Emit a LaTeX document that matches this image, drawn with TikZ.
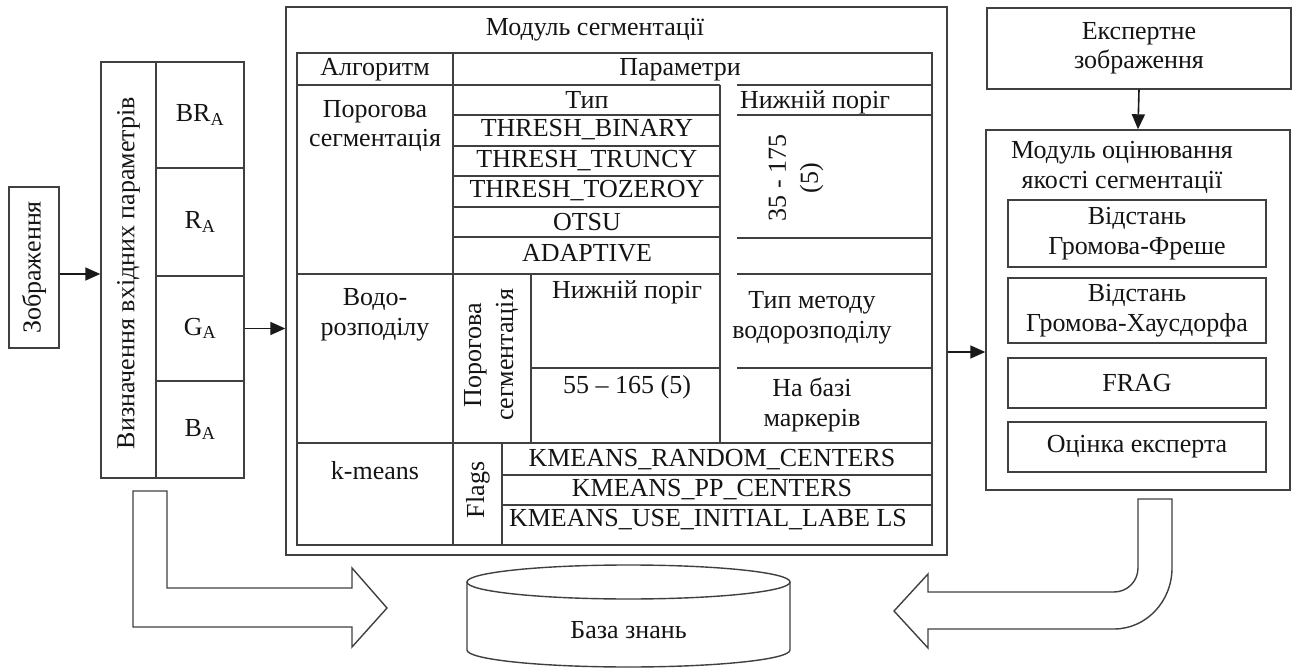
\documentclass[tikz,border=0pt]{standalone}
\usepackage{fontspec}
\setmainfont{Liberation Serif}
\usetikzlibrary{arrows.meta,calc}
\begin{document}
\begin{tikzpicture}[x=1pt,y=-1pt,
  ln/.style={draw=black!75, line width=1.4pt},
  txt/.style={text=black!92, font=\fontsize{26}{29.5}\selectfont, inner sep=0pt, align=center},
  rtxt/.style={txt, rotate=90, font=\fontsize{26}{32}\selectfont},
  box/.style={ln, rectangle, inner sep=0pt},
  cell/.style={box, txt},
  arr/.style={draw=black!90, line width=1.6pt, -{Triangle[length=15pt,width=13pt]}},
  hollow/.style={ln, fill=white, line join=miter}]
\useasboundingbox (0,0) rectangle (1299,668);

% left part
\node[box, minimum width=50pt, minimum height=161pt] (zob) at (34,267.5) {};
\node[rtxt] (zobt) at (zob.center) {Зображення};
\node[box, minimum width=55pt, minimum height=416pt] (vyz) at (128.5,270) {};
\node[rtxt] (vyzt) at (128.5,273) {Визначення вхідних параметрів};
\node[cell, minimum width=88pt, minimum height=106pt] (bra) at (200,115) {BR\textsubscript{A}};
\node[cell, minimum width=88pt, minimum height=108pt] (ra) at (200,222) {R\textsubscript{A}};
\node[cell, minimum width=88pt, minimum height=105pt] (ga) at (200,328.5) {G\textsubscript{A}};
\node[cell, minimum width=88pt, minimum height=97pt] (ba) at (200,429.5) {B\textsubscript{A}};

% segmentation module
\node[box, minimum width=661pt, minimum height=548pt] (seg) at (616.5,281) {};
\node[txt] (segt) at (595,30) {Модуль сегментації};
\node[box, minimum width=635pt, minimum height=492pt] (tab) at (614.5,299) {};
\draw[ln] (297,85) -- (720,85) (737,85) -- (932,85);
\draw[ln] (453,53) -- (453,545);
\draw[ln] (720,85) -- (720,443);
\foreach \y in {115,146,176,207,237} \draw[ln] (453,\y) -- (720,\y);
\draw[ln] (297,274) -- (720,274) (737,274) -- (932,274);
\foreach \y in {115,238,368} \draw[ln] (737,\y) -- (932,\y);
\draw[ln] (531,274) -- (531,443);
\draw[ln] (531,368) -- (720,368);
\draw[ln] (297,443) -- (932,443);
\draw[ln] (502,443) -- (502,545);
\draw[ln] (502,475) -- (932,475) (502,505) -- (932,505);

\node[txt] (t1) at (375,70) {Алгоритм};
\node[txt] (t2) at (680,70) {Параметри};
\node[txt] (t3) at (375,126) {Порогова\\сегментація};
\node[txt] (t4) at (587,100) {Тип};
\node[txt] (t5) at (587,130) {THRESH\_BINARY};
\node[txt] (t6) at (587,161) {THRESH\_TRUNCY};
\node[txt] (t7) at (587,191) {THRESH\_TOZEROY};
\node[txt] (t8) at (587,222) {OTSU};
\node[txt] (t9) at (587,253) {ADAPTIVE};
\node[txt] (t10) at (815,102) {Нижній поріг};
\node[rtxt] (t11) at (796,178) {35 - 175\\(5)};
\node[txt] (t12) at (375,315) {Водо-\\розподілу};
\node[rtxt] (t13) at (491,355) {Порогова\\сегментація};
\node[txt] (t14) at (627,292) {Нижній поріг};
\node[txt] (t15) at (627,387) {55 – 165 (5)};
\node[txt] (t16) at (812,318) {Тип методу\\водорозподілу};
\node[txt] (t17) at (812,405) {На базі\\маркерів};
\node[txt] (t18) at (375,471) {k-means};
\node[rtxt] (t19) at (478,490) {Flags};
\node[txt] (t20) at (712,460) {KMEANS\_RANDOM\_CENTERS};
\node[txt] (t21) at (712,490) {KMEANS\_PP\_CENTERS};
\node[txt] (t22) at (708,520) {KMEANS\_USE\_INITIAL\_LABE LS};

% right part
\node[cell, minimum width=304pt, minimum height=81pt] (exp) at (1139,48.5) {Експертне\\зображення};
\node[box, minimum width=304pt, minimum height=360pt] (ocin) at (1138,310) {};
\node[txt] (ocint) at (1122,167.5) {Модуль оцінювання\\якості сегментації};
\node[cell, minimum width=258pt, minimum height=67pt] (m1) at (1137,233.5) {Відстань\\Громова-Фреше};
\node[cell, minimum width=258pt, minimum height=65pt] (m2) at (1137,310.5) {Відстань\\Громова-Хаусдорфа};
\node[cell, minimum width=258pt, minimum height=50pt] (m3) at (1137,383) {FRAG};
\node[cell, minimum width=258pt, minimum height=50pt] (m4) at (1137,447) {Оцінка експерта};

% connectors
\coordinate (a1) at ($(zob.east)+(0,6.5)$);
\draw[arr] (a1) -- (a1 -| vyz.west);
\draw[arr] (ga.east) -- (ga.east -| seg.west);
\coordinate (a3) at ($(seg.east)+(0,71)$);
\draw[arr] (a3) -- (a3 -| ocin.west);
\draw[arr] (exp.south) -- (ocin.north);

% hollow arrows
\draw[hollow] (133,491) -- (167,491) -- (167,588) -- (352,588) -- (352,568) -- (387,608)
  -- (352,647) -- (352,627) -- (133,627) -- cycle;
\draw[hollow] (1138,499) -- (1172,499) -- (1172,568)
  .. controls (1172,601.7) and (1146,629) .. (1114,629) -- (928,629) -- (928,648)
  -- (894,611) -- (928,574) -- (928,592) -- (1114,592)
  .. controls (1127.3,592) and (1138,581.3) .. (1138,568) -- cycle;

% knowledge base cylinder
\draw[hollow] (467,582) -- (467,650) arc[start angle=180, end angle=0, x radius=161.5, y radius=17] -- (790,582);
\draw[ln] (628.5,582) ellipse [x radius=161.5, y radius=17];
\node[txt] (kb) at (628.5,630) {База знань};
\end{tikzpicture}
\end{document}
